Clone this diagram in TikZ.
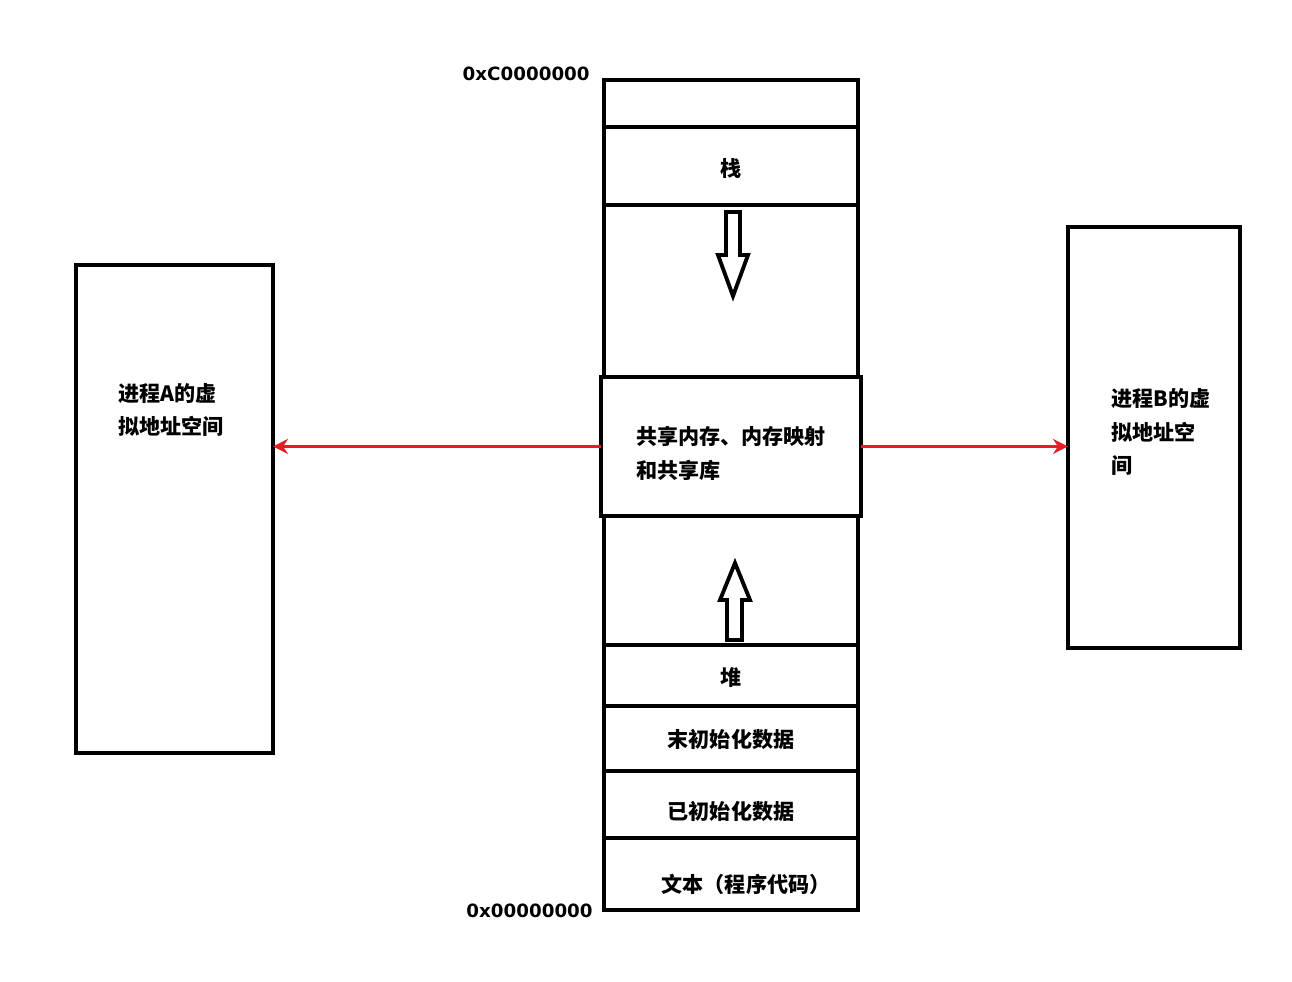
\documentclass[tikz,border=0pt]{standalone}
\usepackage{fontspec}
\newfontfamily\cjk{Noto Sans CJK SC}
\newfontfamily\hexfont{DejaVu Sans}
\usetikzlibrary{arrows.meta, positioning}
\definecolor{mapred}{RGB}{228,30,38}
\tikzset{
    seg/.style={rectangle, draw, line width=2.3pt, minimum width=5.08cm, outer sep=0pt, inner sep=0pt, text height=10pt, text depth=1.5pt, font=\cjk\bfseries\fontsize{12}{19.3}\selectfont},
    drop/.style={text height=#1},
    proc/.style={rectangle, draw, line width=2.3pt, outer sep=0pt},
    lbl/.style={align=left, inner sep=0pt, font=\cjk\bfseries\fontsize{12}{19.3}\selectfont},
    addr/.style={inner sep=0pt, font=\hexfont\bfseries\fontsize{10.4}{12}\selectfont},
    hollowarrow/.style={line width=2.2pt, line join=miter},
    share/.style={-{Stealth[length=0.3cm, width=0.3cm]}, draw=mapred, line width=2pt}
}
\begin{document}
\begin{tikzpicture}[x=0.02cm, y=-0.02cm]
    \useasboundingbox (0,0) rectangle (1292,981);
    % memory layout column
    \node[seg, minimum height=0.94cm, anchor=north] (top) at (731,80) {};
    \node[seg, drop=13.4pt, minimum height=1.56cm, below=0pt of top] (stack) {栈};
    \node[seg, minimum height=3.44cm, below=0pt of stack] (gapup) {};
    \node[seg, text height=, text depth=, minimum height=2.78cm, minimum width=5.2cm, align=left, below=0pt of gapup] (shared) {\rule{0pt}{18pt}共享内存、内存映射\\和共享库};
    \node[seg, minimum height=2.58cm, below=0pt of shared] (gapdown) {};
    \node[seg, drop=13.4pt, minimum height=1.22cm, below=0pt of gapdown] (heap) {堆};
    \node[seg, drop=12.3pt, minimum height=1.30cm, below=0pt of heap] (bss) {末初始化数据};
    \node[seg, drop=19.1pt, minimum height=1.34cm, below=0pt of bss] (data) {已初始化数据};
    \node[seg, drop=22.5pt, minimum height=1.44cm, below=0pt of data] (text) {\hspace*{0.6cm}文本（程序代码）};
    \node[addr, anchor=east] (addrhigh) at (590,74) {0xC0000000};
    \node[addr, anchor=east] (addrlow) at (593,911) {0x00000000};
    % growth arrows
    \draw[hollowarrow] (726,212) -- (740,212) -- (740,255) -- (748,255) -- (733,296) -- (718,255) -- (726,255) -- cycle;
    \draw[hollowarrow] (727,640) -- (742,640) -- (742,600) -- (750,600) -- (735,563) -- (720,600) -- (727,600) -- cycle;
    % processes
    \node[proc, minimum width=3.94cm, minimum height=9.76cm, anchor=north west] (procA) at (76,265) {};
    \node[lbl, anchor=west] (procAtext) at (118,410) {进程A的虚\\拟地址空间};
    \node[proc, minimum width=3.44cm, minimum height=8.42cm, anchor=north west] (procB) at (1068,227) {};
    \node[lbl, anchor=west] (procBtext) at (1111,432) {进程B的虚\\拟地址空\\间};
    \draw[share] (shared.west) -- (shared.west -| procA.east);
    \draw[share] (shared.east) -- (shared.east -| procB.west);
\end{tikzpicture}
\end{document}
